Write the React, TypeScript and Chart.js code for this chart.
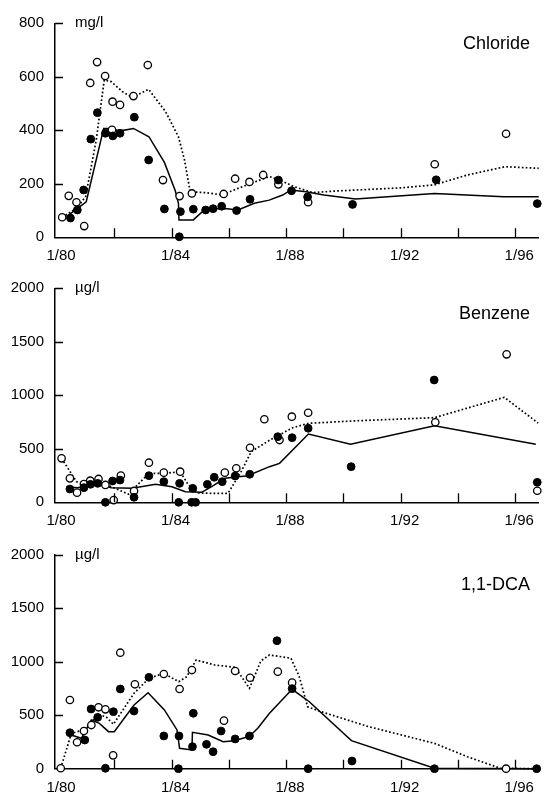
import React, { useEffect, useRef } from "react";
import { Chart, registerables } from "chart.js";

Chart.register(...registerables);

type P = [number, number];

// ---------- axis settings ----------
const X_MIN = 1979.93;
const X_MAX = 1996.82;
const xTickValues = [1980, 1982, 1984, 1986, 1988, 1990, 1992, 1994, 1996];
const xLabelValues = [1980, 1984, 1988, 1992, 1996];
const chlorideYTicks = [0, 200, 400, 600, 800];
const ugYTicks = [0, 500, 1000, 1500, 2000];

// ---------- Chloride (mg/l) ----------
const chlorideOpen: P[] = [
  [1980.18, 75], [1980.41, 155], [1980.68, 131], [1980.95, 42], [1981.16, 577], [1981.40, 655],
  [1981.68, 603], [1981.92, 402], [1981.94, 507], [1982.20, 495], [1982.67, 528], [1983.17, 644],
  [1983.70, 214], [1984.28, 154], [1984.71, 164], [1985.82, 162], [1986.22, 219], [1986.72, 207],
  [1987.20, 233], [1987.73, 198], [1988.77, 131], [1993.19, 273], [1995.68, 387],
];
const chlorideFilled: P[] = [
  [1980.47, 72], [1980.71, 102], [1980.93, 177], [1981.18, 367], [1981.41, 466], [1981.69, 389],
  [1981.95, 379], [1982.20, 389], [1982.70, 449], [1983.20, 289], [1983.75, 106], [1984.27, 2],
  [1984.31, 96], [1984.76, 105], [1985.19, 102], [1985.45, 107], [1985.75, 116], [1986.27, 100],
  [1986.74, 142], [1987.73, 214], [1988.19, 174], [1988.75, 151], [1990.32, 123], [1993.24, 215],
  [1996.77, 126],
];
const chlorideSolid: P[] = [
  [1980.33, 77], [1980.79, 114], [1981.02, 133], [1981.63, 407], [1981.94, 407], [1982.17, 397],
  [1982.67, 407], [1983.21, 376], [1983.75, 280], [1984.13, 174], [1984.24, 127], [1984.26, 65],
  [1984.76, 65], [1985.17, 105], [1985.86, 108], [1986.32, 102], [1986.89, 127], [1987.41, 139],
  [1987.88, 158], [1988.17, 177], [1988.69, 170], [1989.32, 158], [1990.42, 143], [1993.18, 164],
  [1995.60, 152], [1996.82, 152],
];
const chlorideDotted: P[] = [
  [1980.18, 75], [1980.68, 108], [1981.00, 152], [1981.37, 364], [1981.65, 588], [1981.89, 582],
  [1982.29, 544], [1982.63, 523], [1983.20, 553], [1983.79, 470], [1984.24, 376], [1984.45, 290],
  [1984.65, 170], [1985.17, 167], [1985.80, 158], [1986.09, 173], [1986.78, 202], [1987.42, 227],
  [1987.77, 214], [1988.29, 189], [1988.92, 167], [1989.73, 173], [1992.03, 185], [1993.18, 196],
  [1994.33, 233], [1995.65, 264], [1996.82, 258],
];

// ---------- Benzene (µg/l) ----------
const benzeneOpen: P[] = [
  [1980.16, 411], [1980.45, 224], [1980.70, 90], [1980.94, 171], [1981.16, 202], [1981.45, 218],
  [1981.69, 162], [1981.98, 21], [1982.23, 249], [1982.69, 106], [1983.21, 370], [1983.73, 277],
  [1984.30, 286], [1985.86, 277], [1986.26, 318], [1986.74, 510], [1987.24, 776], [1987.77, 582],
  [1988.20, 800], [1988.77, 837], [1993.21, 748], [1995.70, 1383], [1996.77, 108],
];
const benzeneFilled: P[] = [
  [1980.45, 124], [1980.94, 137], [1981.17, 168], [1981.42, 177], [1981.69, 0], [1981.94, 199],
  [1982.20, 208], [1982.69, 47], [1983.21, 249], [1983.73, 193], [1984.25, 0], [1984.28, 177],
  [1984.70, 0], [1984.74, 131], [1984.84, 0], [1985.25, 168], [1985.49, 234], [1985.77, 193],
  [1986.22, 246], [1986.73, 262], [1987.71, 613], [1988.21, 604], [1988.77, 692], [1990.27, 333],
  [1993.17, 1143], [1996.77, 187],
];
const benzeneSolid: P[] = [
  [1980.33, 143], [1980.73, 137], [1981.37, 177], [1981.89, 137], [1982.63, 131], [1983.44, 168],
  [1984.01, 146], [1984.48, 99], [1985.05, 93], [1985.40, 146], [1985.86, 224], [1986.66, 249],
  [1987.42, 333], [1987.77, 364], [1988.78, 638], [1990.25, 542], [1993.18, 716], [1996.72, 542],
];
const benzeneDotted: P[] = [
  [1980.16, 411], [1980.68, 193], [1981.02, 177], [1981.48, 199], [1981.89, 146], [1982.51, 75],
  [1982.86, 177], [1983.21, 271], [1983.79, 271], [1984.30, 286], [1984.59, 162], [1984.94, 87],
  [1985.40, 84], [1985.97, 84], [1986.43, 286], [1986.78, 473], [1987.42, 580], [1987.71, 622],
  [1988.23, 697], [1988.78, 738], [1990.30, 760], [1993.18, 791], [1995.62, 981], [1996.80, 740],
];

// ---------- 1,1-DCA (µg/l) ----------
const dcaOpen: P[] = [
  [1980.13, 4], [1980.45, 642], [1980.70, 247], [1980.94, 352], [1981.20, 408], [1981.45, 574],
  [1981.69, 555], [1981.96, 125], [1982.21, 1084], [1982.72, 789], [1983.73, 885], [1984.28, 745],
  [1984.71, 922], [1985.83, 449], [1986.22, 913], [1986.74, 850], [1987.71, 907], [1988.21, 804],
  [1995.68, 0],
];
const dcaFilled: P[] = [
  [1980.45, 336], [1980.97, 268], [1981.19, 558], [1981.42, 480], [1981.69, 4], [1981.97, 533],
  [1982.21, 745], [1982.69, 539], [1983.21, 854], [1983.73, 306], [1984.24, 0], [1984.26, 306],
  [1984.73, 206], [1984.76, 518], [1985.22, 228], [1985.45, 159], [1985.73, 352], [1986.22, 278],
  [1986.72, 306], [1987.68, 1196], [1988.21, 748], [1988.77, 0], [1990.30, 72], [1993.18, 0],
  [1996.75, 0],
];
const dcaSolid: P[] = [
  [1980.39, 324], [1980.85, 284], [1981.20, 455], [1981.48, 424], [1981.80, 346], [1982.00, 346],
  [1982.69, 595], [1983.18, 710], [1983.75, 549], [1984.19, 362], [1984.28, 191], [1984.71, 175],
  [1984.73, 340], [1985.28, 315], [1985.80, 252], [1986.20, 262], [1986.72, 303], [1987.01, 378],
  [1987.42, 518], [1988.21, 742], [1988.81, 626], [1990.28, 262], [1993.18, 4], [1996.82, 0],
];
const dcaDotted: P[] = [
  [1980.13, 4], [1980.50, 330], [1980.91, 362], [1981.20, 439], [1981.48, 502], [1981.71, 486],
  [1981.97, 415], [1982.69, 705], [1983.21, 845], [1983.73, 891], [1984.25, 813], [1984.53, 860],
  [1984.86, 1016], [1985.51, 969], [1986.22, 948], [1986.72, 751], [1987.12, 1007], [1987.42, 1063],
  [1988.17, 1032], [1988.46, 860], [1988.75, 579], [1989.15, 539], [1990.88, 393], [1993.18, 237],
  [1994.33, 112], [1995.48, 4], [1996.82, 0],
];

const FONT = '"Liberation Sans", Arial, Helvetica, sans-serif';
const W = 544;
const H = 265;

interface PanelDef {
  title: string;
  unit: string;
  yMax: number;
  yTicks: number[];
  top: number;
  bottom: number;
  titleY: number;
  open: P[];
  filled: P[];
  solid: P[];
  dotted: P[];
}

const panels: PanelDef[] = [
  { title: "Chloride", unit: "mg/l", yMax: 800, yTicks: chlorideYTicks, top: 23.3, bottom: 237.3, titleY: 44.3,
    open: chlorideOpen, filled: chlorideFilled, solid: chlorideSolid, dotted: chlorideDotted },
  { title: "Benzene", unit: "\u00b5g/l", yMax: 2000, yTicks: ugYTicks, top: 23.3, bottom: 237.3, titleY: 49.3,
    open: benzeneOpen, filled: benzeneFilled, solid: benzeneSolid, dotted: benzeneDotted },
  { title: "1,1-DCA", unit: "\u00b5g/l", yMax: 2000, yTicks: ugYTicks, top: 24.7, bottom: 238.7, titleY: 55,
    open: dcaOpen, filled: dcaFilled, solid: dcaSolid, dotted: dcaDotted },
];

const decorPlugin = {
  id: "decor",
  afterDraw(chart: any, _args: any, opts: any) {
    const { ctx, chartArea, scales } = chart;
    const xs = scales.x;
    const ys = scales.y;
    ctx.save();
    ctx.strokeStyle = "#000";
    ctx.lineWidth = 1.3;
    ctx.beginPath();
    xs.ticks.forEach((t: any) => {
      if (t.value === 1980) return;
      const px = Math.round(xs.getPixelForValue(t.value)) + 0.5;
      ctx.moveTo(px, chartArea.bottom);
      ctx.lineTo(px, chartArea.bottom - 9);
    });
    ys.ticks.forEach((t: any) => {
      if (t.value === 0) return;
      const py = Math.round(ys.getPixelForValue(t.value)) + 0.5;
      ctx.moveTo(chartArea.left, py);
      ctx.lineTo(chartArea.left + 8, py);
    });
    ctx.stroke();
    ctx.fillStyle = "#000";
    ctx.font = `15px ${FONT}`;
    ctx.textAlign = "left";
    ctx.textBaseline = "middle";
    ctx.fillText(opts.unit, chartArea.left + 20, chartArea.top);
    ctx.font = `18px ${FONT}`;
    ctx.textAlign = "right";
    ctx.fillText(opts.title, 530, opts.titleY);
    ctx.restore();
  },
};

function toXY(arr: P[]) {
  return arr.map(([x, y]) => ({ x, y }));
}

function makeConfig(p: PanelDef): any {
  const tickFont = { family: FONT, size: 15 };
  return {
    type: "scatter",
    data: {
      datasets: [
        {
          data: toXY(p.filled), showLine: false, pointRadius: 3.9, pointBackgroundColor: "#000",
          pointBorderColor: "#000", pointBorderWidth: 1, clip: false,
        },
        {
          data: toXY(p.open), showLine: false, pointRadius: 3.7, pointBackgroundColor: "#fff",
          pointBorderColor: "#000", pointBorderWidth: 1.3, clip: false,
        },
        {
          data: toXY(p.solid), showLine: true, pointRadius: 0, borderColor: "#000", borderWidth: 1.5,
          tension: 0, clip: false,
        },
        {
          data: toXY(p.dotted), showLine: true, pointRadius: 0, borderColor: "#000", borderWidth: 1.7,
          borderDash: [1.7, 2.2], tension: 0, clip: false,
        },
      ],
    },
    options: {
      responsive: false,
      animation: false,
      events: [],
      layout: { padding: { top: p.top, left: 0, right: 0, bottom: 0 } },
      plugins: {
        legend: { display: false },
        tooltip: { enabled: false },
        decor: { unit: p.unit, title: p.title, titleY: p.titleY },
      },
      scales: {
        x: {
          type: "linear",
          min: X_MIN,
          max: X_MAX,
          afterBuildTicks: (s: any) => {
            s.ticks = xTickValues.map((v) => ({ value: v }));
          },
          afterFit: (s: any) => {
            s.height = H - p.bottom;
          },
          grid: { display: false, drawTicks: false },
          border: { display: true, color: "#000", width: 1.5 },
          ticks: {
            color: "#000",
            font: tickFont,
            padding: 10,
            labelOffset: 4,
            maxRotation: 0,
            autoSkip: false,
            callback: (v: number) => (xLabelValues.includes(v) ? `1/${String(v).slice(2)}` : ""),
          },
        },
        y: {
          type: "linear",
          min: 0,
          max: p.yMax,
          afterBuildTicks: (s: any) => {
            s.ticks = p.yTicks.map((v) => ({ value: v }));
          },
          afterFit: (s: any) => {
            s.width = 55;
          },
          grid: { display: false, drawTicks: false },
          border: { display: true, color: "#000", width: 1.5 },
          ticks: { color: "#000", font: tickFont, padding: 11, callback: (v: number) => String(v) },
        },
      },
    },
    plugins: [decorPlugin],
  };
}

export default function App() {
  const r1 = useRef<HTMLCanvasElement>(null);
  const r2 = useRef<HTMLCanvasElement>(null);
  const r3 = useRef<HTMLCanvasElement>(null);

  useEffect(() => {
    document.body.style.margin = "0";
    document.body.style.background = "#fff";
    const refs = [r1, r2, r3];
    const charts = refs.map((r, i) => new Chart(r.current as HTMLCanvasElement, makeConfig(panels[i])));
    return () => charts.forEach((c) => c.destroy());
  }, []);

  const style = (i: number): React.CSSProperties => ({
    position: "absolute",
    left: 0,
    top: i * H,
    width: W,
    height: H,
    display: "block",
  });

  return (
    <div style={{ position: "relative", width: W, height: 795, background: "#fff", overflow: "hidden" }}>
      <canvas ref={r1} width={W} height={H} style={style(0)} />
      <canvas ref={r2} width={W} height={H} style={style(1)} />
      <canvas ref={r3} width={W} height={H} style={style(2)} />
    </div>
  );
}
